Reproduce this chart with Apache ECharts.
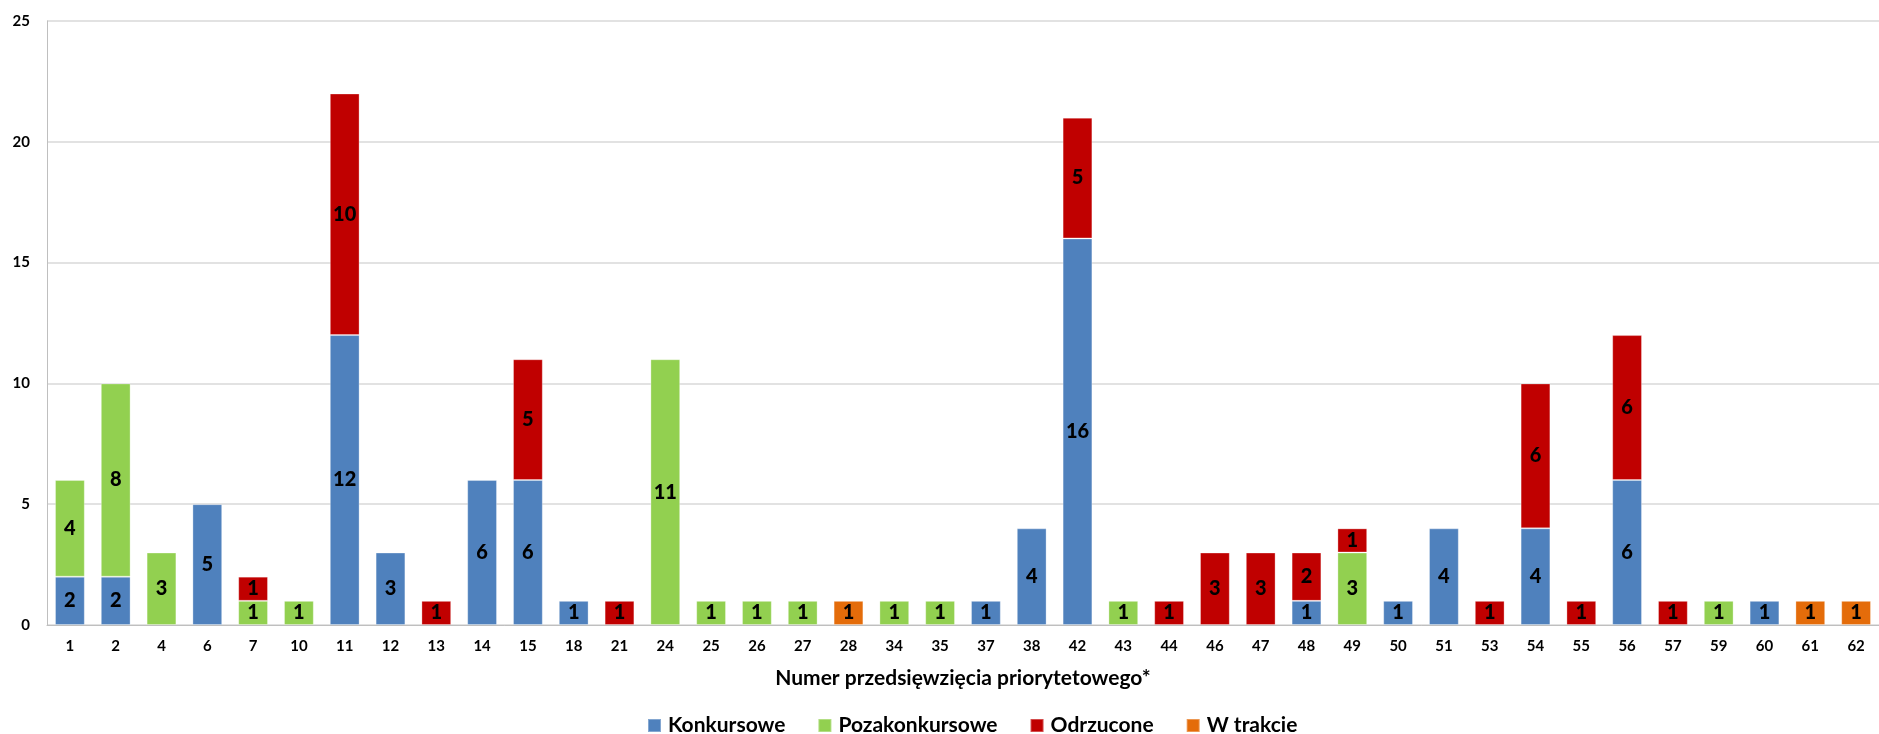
<!DOCTYPE html>
<html>
<head>
<meta charset="utf-8">
<script src="https://cdn.jsdelivr.net/npm/echarts@6/dist/echarts.min.js"></script>
<style>
  html, body { margin: 0; padding: 0; background: #fff; }
  #chart { width: 1879px; height: 734px; }
</style>
</head>
<body>
<div id="chart"></div>
<script>
// numery przedsięwzięć
const categories = ["1", "2", "4", "6", "7", "10", "11", "12", "13", "14", "15", "18", "21", "24",
  "25", "26", "27", "28", "34", "35", "37", "38", "42", "43", "44", "46", "47", "48", "49", "50",
  "51", "53", "54", "55", "56", "57", "59", "60", "61", "62"];

const konkursowe = [2, 2, null, 5, null, null, 12, 3, null, 6, 6, 1, null, null,
  null, null, null, null, null, null, 1, 4, 16, null, null, null, null, 1, null, 1,
  4, null, 4, null, 6, null, null, 1, null, null];

const pozakonkursowe = [4, 8, 3, null, 1, 1, null, null, null, null, null, null, null, 11,
  1, 1, 1, null, 1, 1, null, null, null, 1, null, null, null, null, 3, null,
  null, null, null, null, null, null, 1, null, null, null];

const odrzucone = [null, null, null, null, 1, null, 10, null, 1, null, 5, null, 1, null,
  null, null, null, null, null, null, null, null, 5, null, 1, 3, 3, 2, 1, null,
  null, 1, 6, 1, 6, 1, null, null, null, null];

const wTrakcie = [null, null, null, null, null, null, null, null, null, null, null, null, null, null,
  null, null, null, 1, null, null, null, null, null, null, null, null, null, null, null, null,
  null, null, null, null, null, null, null, null, 1, 1];

const yTicks = [0, 5, 10, 15, 20, 25];

const FONT = "Lato, 'Open Sans', sans-serif";

function makeSeries(name, data, color) {
  return {
    name: name,
    type: "bar",
    stack: "total",
    data: data,
    barCategoryGap: "35%",
    itemStyle: {
      color: color,
      borderColor: "rgba(255,255,255,0.3)",
      borderWidth: 1,
    },
    label: {
      show: true,
      position: "inside",
      color: "#000",
      fontFamily: FONT,
      fontWeight: 900,
      fontSize: 20,
    },
  };
}

const chart = echarts.init(document.getElementById("chart"));

chart.setOption({
  animation: false,
  textStyle: { fontFamily: FONT },
  legend: {
    bottom: -7,
    left: 642,
    itemWidth: 13,
    itemHeight: 13,
    itemGap: 32,
    icon: "rect",
    textStyle: {
      fontFamily: FONT,
      fontWeight: "bold",
      fontSize: 21,
      color: "#000",
      padding: [0, 0, 0, 2],
    },
    data: ["Konkursowe", "Pozakonkursowe", "Odrzucone", "W trakcie"],
  },
  grid: {
    left: 47,
    right: -12,
    top: 21,
    bottom: 109,
    containLabel: false,
  },
  xAxis: {
    type: "category",
    data: categories,
    name: "Numer przedsięwzięcia priorytetowego*",
    nameLocation: "middle",
    nameGap: 43,
    nameTextStyle: {
      fontFamily: FONT,
      fontWeight: "bold",
      fontSize: 21,
      color: "#000",
    },
    axisLine: { lineStyle: { color: "#BFBFBF", width: 1 } },
    axisTick: { show: false },
    axisLabel: {
      interval: 0,
      margin: 14,
      fontFamily: FONT,
      fontWeight: "bold",
      fontSize: 15,
      color: "#000",
    },
  },
  yAxis: {
    type: "value",
    min: yTicks[0],
    max: yTicks[yTicks.length - 1],
    interval: 5,
    axisLine: { show: true, lineStyle: { color: "#BFBFBF", width: 1 } },
    axisTick: { show: false },
    splitLine: { lineStyle: { color: "#D9D9D9", width: 1.5 } },
    axisLabel: {
      margin: 17,
      fontFamily: FONT,
      fontWeight: "bold",
      fontSize: 15,
      color: "#000",
    },
  },
  series: [
    makeSeries("Konkursowe", konkursowe, "#4F81BD"),
    makeSeries("Pozakonkursowe", pozakonkursowe, "#92D050"),
    makeSeries("Odrzucone", odrzucone, "#C00000"),
    makeSeries("W trakcie", wTrakcie, "#E46C0A"),
  ],
});
</script>
</body>
</html>
